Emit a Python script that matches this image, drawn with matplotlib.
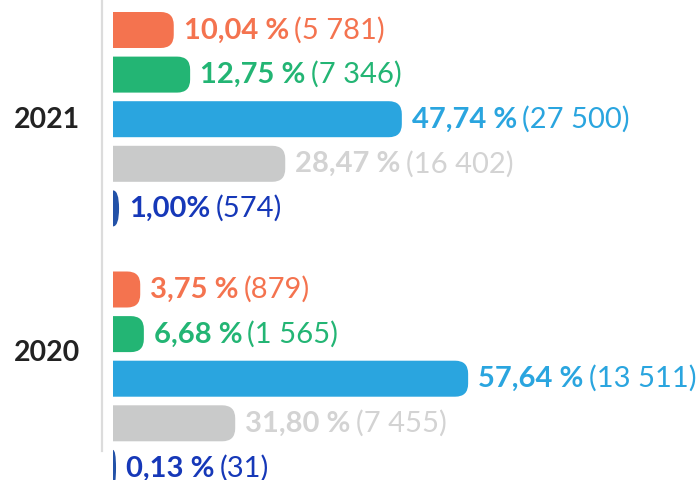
import matplotlib.pyplot as plt
from matplotlib.path import Path
from matplotlib.patches import PathPatch
from matplotlib.lines import Line2D

# data
years = ['2021', '2020']
pct_labels = [['10,04 %', '12,75 %', '47,74 %', '28,47 %', '1,00%'],
              ['3,75 %', '6,68 %', '57,64 %', '31,80 %', '0,13 %']]
count_labels = [['(5 781)', '(7 346)', '(27 500)', '(16 402)', '(574)'],
                ['(879)', '(1 565)', '(13 511)', '(7 455)', '(31)']]
# bar lengths as drawn (in % units)
bars_2021 = [10.04, 12.75, 47.74, 28.47, 1.00]
bars_2020 = [4.5, 5.1, 58.7, 20.2, 0.5]
bar_values = [bars_2021, bars_2020]

bar_colors = ['#F4734F', '#23B574', '#2AA5DF', '#C9CACA', '#2352A8']
text_colors = ['#F4734F', '#23B574', '#2AA5DF', '#D3D3D3', '#1638B8']

W, H = 699, 481
px_per_unit = 6.05
left_px = 113

fig = plt.figure(figsize=(W / 100, H / 100), dpi=100)
ax = fig.add_axes([left_px / W, 0, 1 - left_px / W, 1])
ax.set_xlim(0, (W - left_px) / px_per_unit)
ax.set_ylim(H, 0)
ax.axis('off')

bar_h = 36
pitch = 44.6
group_step = 259.5
first_center = 31
r_px = 13
rx_full = r_px / px_per_unit


def rounded_bar(w, yc):
    top, bot = yc - bar_h / 2, yc + bar_h / 2
    x0 = -3
    if w >= rx_full:
        rx, ry = rx_full, r_px
        verts = [(x0, top), (w - rx, top), (w, top), (w, top + ry),
                 (w, bot - ry), (w, bot), (w - rx, bot), (x0, bot), (x0, top)]
        codes = [Path.MOVETO, Path.LINETO, Path.CURVE3, Path.CURVE3,
                 Path.LINETO, Path.CURVE3, Path.CURVE3, Path.LINETO, Path.CLOSEPOLY]
    else:
        verts = [(x0, top), (0, top), (w, top), (w, yc), (w, bot), (0, bot),
                 (x0, bot), (x0, top)]
        codes = [Path.MOVETO, Path.LINETO, Path.CURVE3, Path.CURVE3,
                 Path.CURVE3, Path.CURVE3, Path.LINETO, Path.CLOSEPOLY]
    return PathPatch(Path(verts, codes), lw=0, clip_on=True)


fig.canvas.draw()
renderer = fig.canvas.get_renderer()
inv = ax.transData.inverted()

label_font = 'Lato'
fs = 21
year_y = [120, 353]

for g, year in enumerate(years):
    fig.text(47 / W, 1 - year_y[g] / H, year, ha='center', va='center',
             fontsize=20.5, fontweight='bold', color='#222222', family=label_font)
    for i, val in enumerate(bar_values[g]):
        yc = first_center + g * group_step + i * pitch
        p = rounded_bar(val, yc)
        p.set_facecolor(bar_colors[i])
        ax.add_patch(p)
        x_text = val + 10 / px_per_unit
        t1 = ax.text(x_text, yc + 7.5, pct_labels[g][i], ha='left', va='baseline',
                     fontsize=fs, fontweight='bold', color=text_colors[i],
                     family=label_font)
        bb = t1.get_window_extent(renderer)
        x_end = inv.transform((bb.x1, bb.y0))[0]
        ax.text(x_end + 5 / px_per_unit, yc + 7.5, count_labels[g][i], ha='left',
                va='baseline', fontsize=fs, color=text_colors[i], family=label_font)

fig.add_artist(Line2D([101.5 / W] * 2, [1 - 452 / H, 1], color='#DCDCDC', lw=1.6))

fig.savefig('out.png', dpi=100)
